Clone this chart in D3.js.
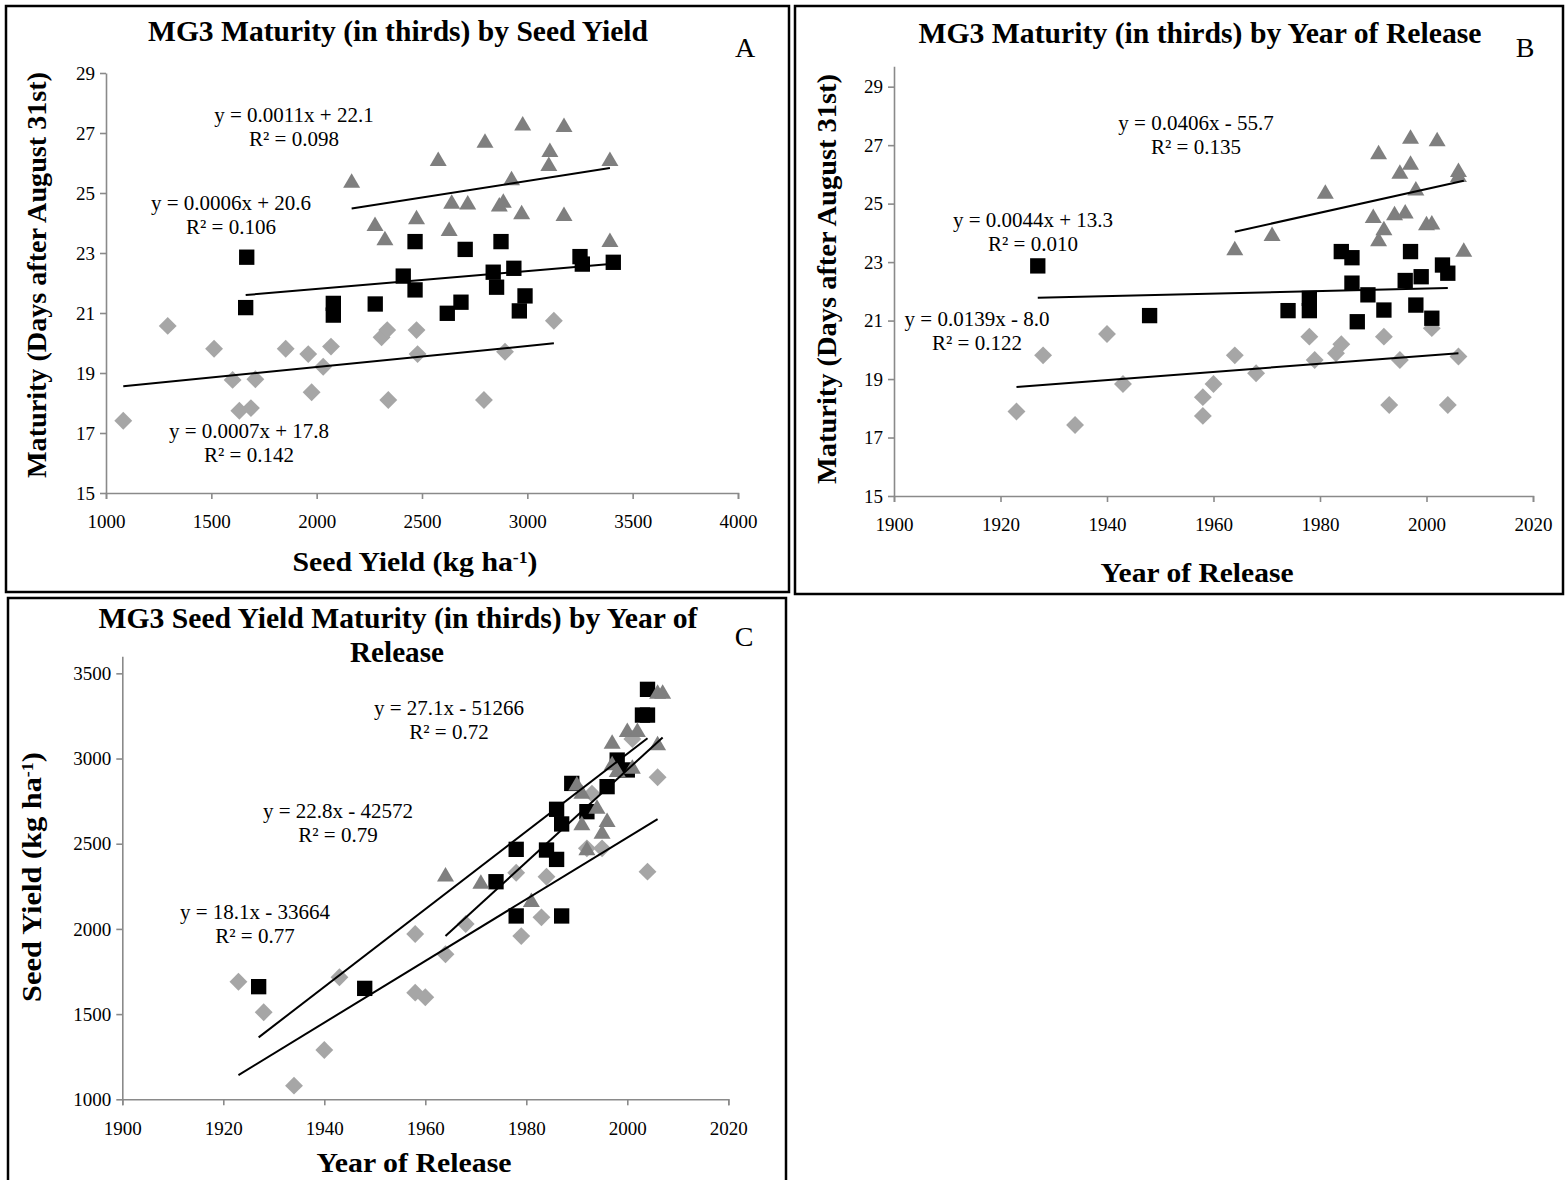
<!DOCTYPE html>
<html>
<head>
<meta charset="utf-8">
<script src="https://cdn.jsdelivr.net/npm/d3@7"></script>
<style>
  html, body { margin: 0; padding: 0; background: #fff; }
  svg { display: block; }
  text { font-family: "Liberation Serif", "Times New Roman", Times, serif; fill: #000; }
</style>
</head>
<body>
<svg id="chart" width="1566" height="1180"></svg>
<script>
// ---------- Panel A: maturity (days after Aug 31) vs seed yield (kg/ha) ----------
const yieldTicksA = [1000, 1500, 2000, 2500, 3000, 3500, 4000];
const maturityTicks = [15, 17, 19, 21, 23, 25, 27, 29];

const earlyA = [ // gray diamonds: [yield, maturity]
  [1082, 17.41], [1293, 20.57], [1513, 19.81], [1601, 18.77], [1633, 17.74],
  [1688, 17.83], [1709, 18.79], [1853, 19.81], [1960, 19.63], [1976, 18.36],
  [2031, 19.21], [2068, 19.88], [2308, 20.19], [2335, 20.43], [2340, 18.10],
  [2474, 20.43], [2479, 19.63], [2794, 18.10], [2894, 19.71], [3126, 20.74]
];
const midA = [ // black squares
  [1663, 21.18], [1668, 22.86], [2079, 21.32], [2079, 20.93], [2278, 21.30],
  [2411, 22.23], [2467, 23.38], [2467, 21.77], [2620, 20.99], [2685, 21.36],
  [2705, 23.12], [2838, 22.36], [2854, 21.86], [2875, 23.38], [2936, 22.49],
  [2962, 21.07], [2989, 21.57], [3250, 22.88], [3261, 22.63], [3408, 22.69]
];
const lateA = [ // dark gray triangles
  [2166, 25.41], [2277, 23.97], [2324, 23.49], [2474, 24.19], [2577, 26.13],
  [2629, 23.80], [2641, 24.71], [2717, 24.68], [2799, 26.74], [2867, 24.62],
  [2886, 24.74], [2925, 25.49], [2973, 24.36], [2978, 27.32], [3102, 25.97],
  [3107, 26.43], [3174, 27.27], [3174, 24.30], [3392, 26.13], [3392, 23.43]
];
// trend lines: [slope, intercept]
const trendA = { early: [0.0007, 17.8], mid: [0.0006, 20.6], late: [0.0011, 22.1] };
const labelsA = {
  early: ["y = 0.0007x + 17.8", "R² = 0.142"],
  mid:   ["y = 0.0006x + 20.6", "R² = 0.106"],
  late:  ["y = 0.0011x + 22.1", "R² = 0.098"]
};

// ---------- Panel B: maturity vs year of release ----------
const yearTicks = [1900, 1920, 1940, 1960, 1980, 2000, 2020];

const earlyB = [ // [year, maturity]
  [1923, 17.89], [1928, 19.81], [1934, 17.43], [1940, 20.54], [1943, 18.83],
  [1958, 18.38], [1958, 17.74], [1960, 18.83], [1964, 19.81], [1968, 19.20],
  [1978, 20.45], [1979, 19.65], [1983, 19.88], [1984, 20.19], [1992, 20.45],
  [1993, 18.11], [1995, 19.65], [2001, 20.74], [2004, 18.11], [2006, 19.77]
];
const midB = [
  [1927, 22.87], [1948, 21.17], [1974, 21.34], [1978, 21.76], [1978, 21.34],
  [1984, 23.36], [1986, 23.15], [1986, 22.28], [1987, 20.96], [1989, 21.88],
  [1992, 21.36], [1996, 22.37], [1997, 23.36], [1998, 21.53], [1999, 22.50],
  [2001, 21.08], [2003, 22.90], [2004, 22.62]
];
const lateB = [
  [1964, 23.47], [1971, 23.96], [1981, 25.41], [1990, 24.58], [1991, 26.76],
  [1991, 23.78], [1992, 24.16], [1994, 24.67], [1995, 26.09], [1996, 24.73],
  [1997, 27.29], [1997, 26.40], [1998, 25.52], [2000, 24.33], [2001, 24.35],
  [2002, 27.20], [2006, 26.15], [2006, 25.98], [2007, 23.42]
];
const trendB = { early: [0.0139, -8.0], mid: [0.0044, 13.3], late: [0.0406, -55.7] };
const labelsB = {
  early: ["y = 0.0139x - 8.0", "R² = 0.122"],
  mid:   ["y = 0.0044x + 13.3", "R² = 0.010"],
  late:  ["y = 0.0406x - 55.7", "R² = 0.135"]
};

// ---------- Panel C: seed yield vs year of release ----------
const yieldTicksC = [1000, 1500, 2000, 2500, 3000, 3500];

const earlyC = [ // [year, yield]
  [1923, 1690], [1928, 1511], [1934, 1080], [1940, 1289], [1943, 1716],
  [1958, 1970], [1958, 1626], [1960, 1599], [1964, 1851], [1968, 2029],
  [1978, 2330], [1979, 1958], [1983, 2068], [1984, 2306], [1992, 2473],
  [1993, 2794], [1995, 2473], [2001, 3115], [2004, 2336], [2006, 2890]
];
const midC = [
  [1927, 1661], [1948, 1651], [1974, 2277], [1978, 2467], [1978, 2076],
  [1984, 2463], [1986, 2408], [1986, 2702], [1987, 2616], [1987, 2076],
  [1989, 2854], [1992, 2688], [1996, 2835], [1998, 2991], [2000, 2933],
  [2003, 3255], [2004, 3255], [2004, 3406]
];
const lateC = [
  [1964, 2320], [1971, 2277], [1981, 2170], [1990, 2854], [1991, 2620],
  [1991, 2805], [1992, 2473], [1994, 2717], [1995, 2570], [1996, 2639],
  [1997, 3099], [1997, 2972], [1998, 2933], [2000, 3167], [2001, 2952],
  [2002, 3167], [2006, 3089], [2006, 3392], [2007, 3392]
];
const trendC = { early: [18.1, -33664], mid: [22.8, -42572], late: [27.1, -51266] };
const labelsC = {
  early: ["y = 18.1x - 33664", "R² = 0.77"],
  mid:   ["y = 22.8x - 42572", "R² = 0.79"],
  late:  ["y = 27.1x - 51266", "R² = 0.72"]
};

// ---------- drawing ----------
const svg = d3.select("#chart");
const AXIS_COLOR = "#8a8a8a";

const markerStyle = {
  early: { fill: "#a6a6a6", path: d3.symbol(d3.symbolSquare, 160)(), rotate: 45 },
  mid:   { fill: "#000000", path: d3.symbol(d3.symbolSquare, 235)(), rotate: 0 },
  late:  { fill: "#7f7f7f", path: "M0,-7.5L8.5,7L-8.5,7Z", rotate: 0 }
};

function drawPanel(p) {
  const g = svg.append("g");

  g.append("rect")
    .attr("x", p.frame[0]).attr("y", p.frame[1])
    .attr("width", p.frame[2] - p.frame[0]).attr("height", p.frame[3] - p.frame[1])
    .attr("fill", "none").attr("stroke", "#000").attr("stroke-width", 2.5);

  const x = d3.scaleLinear().domain(p.xDomain).range(p.xRange);
  const y = d3.scaleLinear().domain(p.yDomain).range(p.yRange);

  // axes
  const xAxis = g.append("g")
    .attr("transform", `translate(0,${p.yRange[0]})`)
    .call(d3.axisBottom(x).tickValues(p.xTicks).tickSize(6).tickSizeOuter(6)
      .tickPadding(16).tickFormat(d3.format("d")));
  const yAxis = g.append("g")
    .attr("transform", `translate(${p.xRange[0]},0)`)
    .call(d3.axisLeft(y).tickValues(p.yTicks).tickSize(6).tickSizeOuter(0)
      .tickPadding(5).tickFormat(d3.format("d")));
  [xAxis, yAxis].forEach(a => {
    a.select(".domain").attr("stroke", AXIS_COLOR).attr("stroke-width", 1.6);
    a.selectAll(".tick line").attr("stroke", AXIS_COLOR).attr("stroke-width", 1.6);
    a.selectAll(".tick text").attr("font-size", 19)
      .attr("font-family", "Liberation Serif, Times New Roman, serif").attr("fill", "#000");
  });

  // markers: diamonds, then squares, then triangles on top
  ["early", "mid", "late"].forEach(k => {
    const st = markerStyle[k];
    g.append("g").selectAll("path").data(p.series[k]).join("path")
      .attr("d", st.path)
      .attr("transform", d => `translate(${x(d[0])},${y(d[1])}) rotate(${st.rotate})`)
      .attr("fill", st.fill);
  });

  // linear trend lines from the stated equations, spanning each series' x-range
  ["early", "mid", "late"].forEach(k => {
    const [m, b] = p.trends[k];
    const ext = d3.extent(p.series[k], d => d[0]);
    g.append("line")
      .attr("x1", x(ext[0])).attr("y1", y(m * ext[0] + b))
      .attr("x2", x(ext[1])).attr("y2", y(m * ext[1] + b))
      .attr("stroke", "#000").attr("stroke-width", 2);
  });

  // equation labels
  ["early", "mid", "late"].forEach(k => {
    const pos = p.labelPos[k];
    p.labels[k].forEach((t, i) => {
      g.append("text").attr("x", pos[0]).attr("y", pos[1] + i * 23.5)
        .attr("text-anchor", "middle").attr("font-size", 21).text(t);
    });
  });

  // title
  p.title.forEach(t => {
    g.append("text").attr("x", t.x).attr("y", t.y)
      .attr("text-anchor", "middle").attr("font-size", 30).attr("font-weight", "bold")
      .attr("textLength", t.w).attr("lengthAdjust", "spacingAndGlyphs").text(t.text);
  });

  // panel letter
  g.append("text").attr("x", p.letter.x).attr("y", p.letter.y)
    .attr("text-anchor", "middle").attr("font-size", 28).text(p.letter.text);

  // axis titles
  const xt = g.append("text").attr("x", p.xTitle.x).attr("y", p.xTitle.y)
    .attr("text-anchor", "middle").attr("font-size", 27).attr("font-weight", "bold")
    .attr("textLength", p.xTitle.w).attr("lengthAdjust", "spacingAndGlyphs");
  addLabel(xt, p.xTitle.parts);

  const yt = g.append("text")
    .attr("transform", `translate(${p.yTitle.x},${p.yTitle.y}) rotate(-90)`)
    .attr("text-anchor", "middle").attr("font-size", 27).attr("font-weight", "bold")
    .attr("textLength", p.yTitle.w).attr("lengthAdjust", "spacingAndGlyphs");
  addLabel(yt, p.yTitle.parts);
}

// label parts: plain strings, or {sup: "..."} for superscripts
function addLabel(sel, parts) {
  parts.forEach(pt => {
    if (typeof pt === "string") sel.append("tspan").text(pt);
    else sel.append("tspan").attr("baseline-shift", "super").attr("font-size", 16).text(pt.sup);
  });
}

const seedYieldLabel = ["Seed Yield (kg ha", { sup: "-1" }, ")"];
const maturityLabel = ["Maturity (Days after August 31st)"];
const yearLabel = ["Year of Release"];

drawPanel({
  frame: [6, 6, 789, 592],
  xDomain: [1000, 4000], xRange: [106, 738], xTicks: yieldTicksA,
  yDomain: [15, 29], yRange: [493, 73], yTicks: maturityTicks,
  series: { early: earlyA, mid: midA, late: lateA },
  trends: trendA, labels: labelsA,
  labelPos: { early: [249, 438], mid: [231, 210], late: [294, 122] },
  title: [{ text: "MG3 Maturity (in thirds) by Seed Yield", x: 398, y: 41, w: 500 }],
  letter: { text: "A", x: 745, y: 57 },
  xTitle: { parts: seedYieldLabel, x: 415, y: 571, w: 245 },
  yTitle: { parts: maturityLabel, x: 46, y: 275, w: 406 }
});

drawPanel({
  frame: [795, 6, 1563, 594],
  xDomain: [1900, 2020], xRange: [894, 1533], xTicks: yearTicks,
  yDomain: [15, 29.7], yRange: [496, 66.2], yTicks: maturityTicks,
  series: { early: earlyB, mid: midB, late: lateB },
  trends: trendB, labels: labelsB,
  labelPos: { early: [977, 326], mid: [1033, 227], late: [1196, 130] },
  title: [{ text: "MG3 Maturity (in thirds) by Year of Release", x: 1200, y: 43, w: 563 }],
  letter: { text: "B", x: 1525, y: 57 },
  xTitle: { parts: yearLabel, x: 1197, y: 582, w: 193 },
  yTitle: { parts: maturityLabel, x: 836, y: 279, w: 410 }
});

drawPanel({
  frame: [8, 598, 786, 1190],
  xDomain: [1900, 2020], xRange: [122.3, 728.3], xTicks: yearTicks,
  yDomain: [1000, 3600], yRange: [1099.3, 656.3], yTicks: yieldTicksC,
  series: { early: earlyC, mid: midC, late: lateC },
  trends: trendC, labels: labelsC,
  labelPos: { early: [255, 919], mid: [338, 818], late: [449, 715] },
  title: [
    { text: "MG3 Seed Yield Maturity (in thirds) by Year of", x: 398, y: 628, w: 599 },
    { text: "Release", x: 397, y: 662, w: 94 }
  ],
  letter: { text: "C", x: 744, y: 646 },
  xTitle: { parts: yearLabel, x: 414, y: 1172, w: 195 },
  yTitle: { parts: seedYieldLabel, x: 41, y: 877, w: 250 }
});
</script>
</body>
</html>
